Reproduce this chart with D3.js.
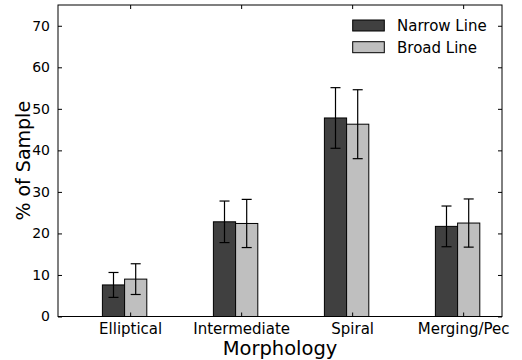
<!DOCTYPE html>
<html>
<head>
<meta charset="utf-8">
<script src="https://cdn.jsdelivr.net/npm/d3@7"></script>
<style>
  html, body { margin: 0; padding: 0; background: #fff; }
  svg { display: block; }
  text { font-family: "DejaVu Sans", sans-serif; fill: #000; }
</style>
</head>
<body>
<svg id="chart" width="522" height="360"></svg>
<script>
// Morphology breakdown of the two line-width samples
const categories = ["Elliptical", "Intermediate", "Spiral", "Merging/Pec"];
const narrowValues = [7.6, 22.8, 47.8, 21.7];
const narrowErr = [3.0, 5.0, 7.3, 4.9];
const broadValues = [9.0, 22.4, 46.3, 22.5];
const broadErr = [3.7, 5.8, 8.3, 5.8];
const yTicks = [0, 10, 20, 30, 40, 50, 60, 70];
const seriesNames = ["Narrow Line", "Broad Line"];
const seriesColors = ["#404040", "#bfbfbf"];

const W = 522, H = 360;
const m = { left: 58, right: 502, top: 5, bottom: 316.5 };
const svg = d3.select("#chart");

const x = d3.scaleLinear().domain([-0.65, 3.35]).range([m.left, m.right]);
const y = d3.scaleLinear().domain([0, 75]).range([m.bottom, m.top]);

const barW = 0.2;
const series = [
  { values: narrowValues, err: narrowErr, offset: -0.25, color: seriesColors[0] },
  { values: broadValues, err: broadErr, offset: -0.05, color: seriesColors[1] }
];

// bars
series.forEach(s => {
  svg.append("g").selectAll("rect")
    .data(s.values)
    .join("rect")
    .attr("x", (d, i) => x(i + s.offset))
    .attr("y", d => y(d))
    .attr("width", x(barW) - x(0))
    .attr("height", d => y(0) - y(d))
    .attr("fill", s.color)
    .attr("stroke", "#000")
    .attr("stroke-width", 1);
});

// error bars
series.forEach(s => {
  const g = svg.append("g").attr("stroke", "#000").attr("stroke-width", 1.2);
  s.values.forEach((v, i) => {
    const cx = x(i + s.offset + barW / 2);
    const lo = y(v - s.err[i]), hi = y(v + s.err[i]);
    g.append("line").attr("x1", cx).attr("x2", cx).attr("y1", lo).attr("y2", hi);
    g.append("line").attr("x1", cx - 5).attr("x2", cx + 5).attr("y1", lo).attr("y2", lo);
    g.append("line").attr("x1", cx - 5).attr("x2", cx + 5).attr("y1", hi).attr("y2", hi);
  });
});

// axes with inward ticks on all four sides
const tickLen = 4;
const yLeft = d3.axisLeft(y).tickValues(yTicks).tickSizeInner(-tickLen).tickSizeOuter(0).tickPadding(tickLen + 4);
const yRight = d3.axisRight(y).tickValues(yTicks).tickSizeInner(-tickLen).tickSizeOuter(0).tickFormat("");
const xBottom = d3.axisBottom(x).tickValues(d3.range(categories.length))
  .tickFormat(i => categories[i]).tickSizeInner(-tickLen).tickSizeOuter(0).tickPadding(tickLen + 3);
const xTop = d3.axisTop(x).tickValues(d3.range(categories.length)).tickSizeInner(-tickLen).tickSizeOuter(0).tickFormat("");

const gyl = svg.append("g").attr("transform", `translate(${m.left},0)`).call(yLeft);
const gyr = svg.append("g").attr("transform", `translate(${m.right},0)`).call(yRight);
const gxb = svg.append("g").attr("transform", `translate(0,${m.bottom})`).call(xBottom);
const gxt = svg.append("g").attr("transform", `translate(0,${m.top})`).call(xTop);
[gyl, gyr, gxb, gxt].forEach(g => {
  g.select(".domain").remove();
  g.selectAll("line").attr("stroke", "#000").attr("stroke-width", 1);
});
gyl.selectAll("text").style("font-size", "14px").attr("font-family", "DejaVu Sans");
gxb.selectAll("text").style("font-size", "15px").attr("font-family", "DejaVu Sans");

// frame
svg.append("rect")
  .attr("x", m.left).attr("y", m.top)
  .attr("width", m.right - m.left).attr("height", m.bottom - m.top)
  .attr("fill", "none").attr("stroke", "#000").attr("stroke-width", 1);

// axis titles
svg.append("text")
  .attr("x", (m.left + m.right) / 2).attr("y", 355)
  .attr("text-anchor", "middle").style("font-size", "19.5px")
  .text("Morphology");
svg.append("text")
  .attr("transform", `translate(30,${(m.top + m.bottom) / 2}) rotate(-90)`)
  .attr("text-anchor", "middle").style("font-size", "19px")
  .text("% of Sample");

// legend
const leg = svg.append("g");
seriesNames.forEach((name, i) => {
  const yy = 20 + i * 21.7;
  leg.append("rect").attr("x", 352.7).attr("y", yy).attr("width", 31.6).attr("height", 11)
    .attr("fill", seriesColors[i]).attr("stroke", "#000").attr("stroke-width", 1);
  leg.append("text").attr("x", 397).attr("y", yy + 5.5).attr("dy", "0.36em")
    .style("font-size", "15px").text(name);
});
</script>
</body>
</html>
